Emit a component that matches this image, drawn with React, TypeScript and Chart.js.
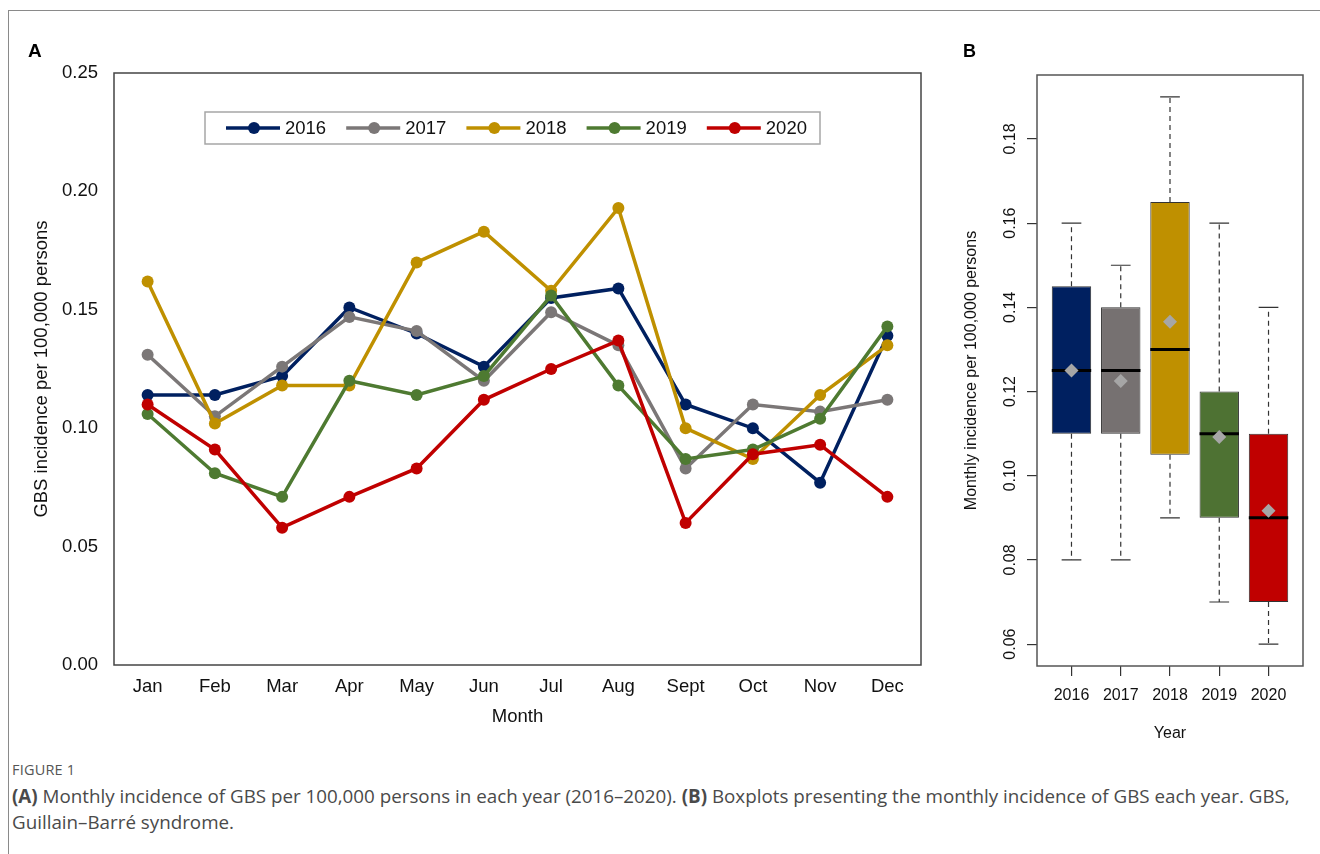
import React, { useEffect, useRef } from "react";
import { Chart, registerables } from "chart.js";
Chart.register(...registerables);

// ---------- Data: panel A ----------
const months = ["Jan", "Feb", "Mar", "Apr", "May", "Jun", "Jul", "Aug", "Sept", "Oct", "Nov", "Dec"];
const years = ["2016", "2017", "2018", "2019", "2020"];
const inc2016 = [0.114, 0.114, 0.122, 0.151, 0.14, 0.126, 0.155, 0.159, 0.11, 0.1, 0.077, 0.139];
const inc2017 = [0.131, 0.105, 0.126, 0.147, 0.141, 0.12, 0.149, 0.135, 0.083, 0.11, 0.107, 0.112];
const inc2018 = [0.162, 0.102, 0.118, 0.118, 0.17, 0.183, 0.158, 0.193, 0.1, 0.087, 0.114, 0.135];
const inc2019 = [0.106, 0.081, 0.071, 0.12, 0.114, 0.122, 0.156, 0.118, 0.087, 0.091, 0.104, 0.143];
const inc2020 = [0.11, 0.091, 0.058, 0.071, 0.083, 0.112, 0.125, 0.137, 0.06, 0.089, 0.093, 0.071];
const lineYTicks = [0, 0.05, 0.1, 0.15, 0.2, 0.25];

// ---------- Data: panel B ----------
const boxMin = [0.08, 0.08, 0.09, 0.07, 0.06];
const boxQ1 = [0.11, 0.11, 0.105, 0.09, 0.07];
const boxMedian = [0.125, 0.125, 0.13, 0.11, 0.09];
const boxQ3 = [0.145, 0.14, 0.165, 0.12, 0.11];
const boxMax = [0.16, 0.15, 0.19, 0.16, 0.14];
const boxMean = [0.125, 0.1225, 0.1366, 0.1092, 0.0917];
const boxYTicks = [0.06, 0.08, 0.1, 0.12, 0.14, 0.16, 0.18];

const lineColors = ["#002060", "#7B7777", "#BF9000", "#4E7A31", "#C00000"];
const boxColors = ["#002060", "#767171", "#BF9000", "#4E7233", "#C00000"];

const FONT = "'Liberation Sans', Arial, sans-serif";

const frameA = {
  id: "frameA",
  afterDraw(chart: any) {
    const { ctx, chartArea: a } = chart;
    ctx.save();
    ctx.strokeStyle = "#444";
    ctx.lineWidth = 1.5;
    ctx.strokeRect(a.left, a.top, a.right - a.left, a.bottom - a.top);
    ctx.restore();
  },
};

const legendA = {
  id: "legendA",
  afterDraw(chart: any) {
    const { ctx, chartArea: a } = chart;
    const left = a.left + 91;
    const top = a.top + 39;
    const w = 615;
    const h = 32;
    ctx.save();
    ctx.fillStyle = "#fff";
    ctx.fillRect(left, top, w, h);
    ctx.strokeStyle = "#A6A6A6";
    ctx.lineWidth = 1.5;
    ctx.strokeRect(left, top, w, h);
    const cy = top + h / 2;
    chart.data.datasets.forEach((ds: any, i: number) => {
      const x0 = left + 21 + i * 120.2;
      ctx.strokeStyle = ds.borderColor;
      ctx.lineWidth = 3.5;
      ctx.beginPath();
      ctx.moveTo(x0, cy);
      ctx.lineTo(x0 + 54, cy);
      ctx.stroke();
      ctx.fillStyle = ds.borderColor;
      ctx.beginPath();
      ctx.arc(x0 + 28, cy, 6, 0, Math.PI * 2);
      ctx.fill();
      ctx.fillStyle = "#111";
      ctx.font = `18.5px ${FONT}`;
      ctx.textBaseline = "middle";
      ctx.textAlign = "left";
      ctx.fillText(ds.label, x0 + 59, cy + 1);
    });
    ctx.restore();
  },
};

const frameB = {
  id: "frameB",
  afterDraw(chart: any) {
    const { ctx, chartArea: a } = chart;
    ctx.save();
    ctx.strokeStyle = "#555";
    ctx.lineWidth = 1.5;
    ctx.strokeRect(a.left, a.top, a.right - a.left, a.bottom - a.top);
    ctx.restore();
  },
};

const whiskers = {
  id: "whiskers",
  beforeDatasetsDraw(chart: any) {
    const { ctx } = chart;
    const xs = chart.scales.x;
    const ys = chart.scales.y;
    const cap = xs.getPixelForValue(1.2) - xs.getPixelForValue(1);
    ctx.save();
    ctx.strokeStyle = "#333";
    ctx.lineWidth = 1.2;
    years.forEach((_, i) => {
      const x = xs.getPixelForValue(i + 1);
      ctx.setLineDash([5, 4]);
      ctx.beginPath();
      ctx.moveTo(x, ys.getPixelForValue(boxQ3[i]));
      ctx.lineTo(x, ys.getPixelForValue(boxMax[i]));
      ctx.moveTo(x, ys.getPixelForValue(boxQ1[i]));
      ctx.lineTo(x, ys.getPixelForValue(boxMin[i]));
      ctx.stroke();
      ctx.setLineDash([]);
      ctx.beginPath();
      ctx.moveTo(x - cap, ys.getPixelForValue(boxMax[i]));
      ctx.lineTo(x + cap, ys.getPixelForValue(boxMax[i]));
      ctx.moveTo(x - cap, ys.getPixelForValue(boxMin[i]));
      ctx.lineTo(x + cap, ys.getPixelForValue(boxMin[i]));
      ctx.stroke();
    });
    ctx.restore();
  },
};

function LineChartA() {
  const ref = useRef<HTMLCanvasElement>(null);
  useEffect(() => {
    const series = [inc2016, inc2017, inc2018, inc2019, inc2020];
    const chart = new Chart(ref.current as HTMLCanvasElement, {
      type: "line",
      data: {
        labels: months,
        datasets: series.map((s, i) => ({
          label: years[i],
          data: s,
          borderColor: lineColors[i],
          backgroundColor: lineColors[i],
          pointBackgroundColor: lineColors[i],
          pointBorderWidth: 0,
          pointRadius: 6,
          borderWidth: 3.5,
          tension: 0,
          order: 5 - i,
        })),
      },
      options: {
        responsive: false,
        animation: false,
        layout: { padding: { top: 73, right: 19, left: 0, bottom: 0 } },
        plugins: { legend: { display: false }, tooltip: { enabled: false } },
        scales: {
          x: {
            type: "category",
            offset: true,
            grid: { display: false, drawTicks: false },
            border: { display: false },
            ticks: { color: "#111", font: { family: FONT, size: 18.5 }, padding: 11, autoSkip: false, maxRotation: 0 },
            title: {
              display: true,
              text: "Month",
              color: "#111",
              font: { family: FONT, size: 18.5 },
              padding: { top: 0, bottom: 32 },
            },
            afterFit: (s: any) => {
              s.height = 95;
            },
          },
          y: {
            min: 0,
            max: 0.25,
            afterBuildTicks: (s: any) => {
              s.ticks = lineYTicks.map((v) => ({ value: v }));
            },
            grid: { display: false, drawTicks: false },
            border: { display: false },
            ticks: {
              color: "#111",
              font: { family: FONT, size: 18.5 },
              padding: 16,
              callback: (v: any) => Number(v).toFixed(2),
            },
            title: {
              display: true,
              text: "GBS incidence per 100,000 persons",
              color: "#111",
              font: { family: FONT, size: 18.5 },
              padding: { top: 31, bottom: 0 },
            },
            afterFit: (s: any) => {
              s.width = 114;
            },
          },
        },
      },
      plugins: [frameA, legendA],
    });
    return () => chart.destroy();
  }, []);
  return <canvas ref={ref} width={940} height={760} style={{ position: "absolute", left: 0, top: 0 }} />;
}

function BoxChartB() {
  const ref = useRef<HTMLCanvasElement>(null);
  useEffect(() => {
    const halfBox = (ctx: any) => {
      const xs = ctx.chart.scales.x;
      return xs.getPixelForValue(1.4) - xs.getPixelForValue(1);
    };
    const chart = new Chart(ref.current as HTMLCanvasElement, {
      type: "bar",
      data: {
        datasets: [
          {
            type: "bar",
            label: "box",
            data: years.map((_, i) => ({ x: i + 1, y: [boxQ1[i], boxQ3[i]] })) as any,
            backgroundColor: boxColors,
            borderColor: "#333",
            borderWidth: 1,
            borderSkipped: false,
            categoryPercentage: 1,
            barPercentage: 0.8,
            order: 3,
          } as any,
          {
            type: "line",
            label: "median",
            data: years.map((_, i) => ({ x: i + 1, y: boxMedian[i] })) as any,
            showLine: false,
            pointStyle: "line",
            pointRadius: halfBox,
            pointBorderWidth: 3,
            pointBorderColor: "#000",
            order: 2,
          } as any,
          {
            type: "line",
            label: "mean",
            data: years.map((_, i) => ({ x: i + 1, y: boxMean[i] })) as any,
            showLine: false,
            pointStyle: "rectRot",
            pointRadius: 7,
            pointBackgroundColor: "#A6A6A6",
            pointBorderWidth: 0,
            order: 1,
          } as any,
        ],
      },
      options: {
        responsive: false,
        animation: false,
        layout: { padding: { top: 75, right: 17, left: 0, bottom: 0 } },
        plugins: { legend: { display: false }, tooltip: { enabled: false } },
        scales: {
          x: {
            type: "linear",
            min: 0.3,
            max: 5.7,
            offset: false,
            afterBuildTicks: (s: any) => {
              s.ticks = years.map((_, i) => ({ value: i + 1 }));
            },
            grid: {
              display: true,
              offset: false,
              drawOnChartArea: false,
              drawTicks: true,
              tickLength: 10,
              color: "#333",
              lineWidth: 1.2,
            },
            border: { display: false },
            ticks: {
              color: "#111",
              font: { family: FONT, size: 16 },
              padding: 10,
              autoSkip: false,
              maxRotation: 0,
              callback: (_v: any, idx: number) => years[idx],
            },
            title: {
              display: true,
              text: "Year",
              color: "#111",
              font: { family: FONT, size: 16 },
              padding: { top: 0, bottom: 17 },
            },
            afterFit: (s: any) => {
              s.height = 94;
            },
          },
          y: {
            min: 0.0548,
            max: 0.1952,
            afterBuildTicks: (s: any) => {
              s.ticks = boxYTicks.map((v) => ({ value: v }));
            },
            grid: { display: true, drawOnChartArea: false, drawTicks: true, tickLength: 10, color: "#333", lineWidth: 1.2 },
            border: { display: false },
            ticks: {
              color: "#111",
              font: { family: FONT, size: 16 },
              padding: 1,
              minRotation: 90,
              maxRotation: 90,
              crossAlign: "center",
              autoSkip: false,
              callback: (v: any) => Number(v).toFixed(2),
            },
            title: {
              display: true,
              text: "Monthly incidence per 100,000 persons",
              color: "#111",
              font: { family: FONT, size: 16 },
              padding: { top: 22, bottom: 0 },
            },
            afterFit: (s: any) => {
              s.width = 97;
            },
          },
        },
      },
      plugins: [frameB, whiskers],
    });
    return () => chart.destroy();
  }, []);
  return <canvas ref={ref} width={380} height={760} style={{ position: "absolute", left: 940, top: 0 }} />;
}

export default function App() {
  return (
    <div style={{ position: "absolute", left: 0, top: 0, width: 1320, height: 854, background: "#fff", overflow: "hidden" }}>
      <div
        style={{
          position: "absolute",
          left: 8,
          top: 10,
          width: 1330,
          height: 860,
          borderTop: "1.5px solid #8a8a8a",
          borderLeft: "1.5px solid #8a8a8a",
        }}
      />
      <LineChartA />
      <BoxChartB />
      <div style={{ position: "absolute", left: 28, top: 40, font: `bold 19px ${FONT}`, color: "#000" }}>A</div>
      <div style={{ position: "absolute", left: 963, top: 41, font: `bold 18px ${FONT}`, color: "#000" }}>B</div>
      <div
        style={{
          position: "absolute",
          left: 12,
          top: 760,
          fontFamily: "'Open Sans', 'Noto Sans', sans-serif",
          fontSize: 14.5,
          color: "#555",
          letterSpacing: 0.2,
        }}
      >
        FIGURE 1
      </div>
      <div
        style={{
          position: "absolute",
          left: 12,
          top: 783,
          fontFamily: "'Open Sans', 'Noto Sans', sans-serif",
          fontSize: 18.8,
          lineHeight: "26px",
          color: "#4a4a4a",
          whiteSpace: "nowrap",
        }}
      >
        <b>(A)</b> Monthly incidence of GBS per 100,000 persons in each year (2016–2020). <b>(B)</b> Boxplots presenting the monthly incidence of GBS each year. GBS,
        <br />
        Guillain–Barré syndrome.
      </div>
    </div>
  );
}
